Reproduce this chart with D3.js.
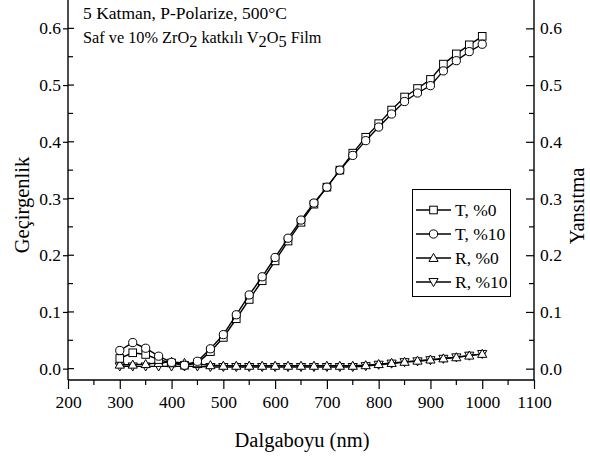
<!DOCTYPE html>
<html>
<head>
<meta charset="utf-8">
<script src="https://cdn.jsdelivr.net/npm/d3@7"></script>
<style>
  html, body { margin: 0; padding: 0; background: #fff; }
  svg { display: block; }
  svg text { font-family: "Liberation Serif", "Times New Roman", serif !important; fill: #000; }
</style>
</head>
<body>
<svg id="chart" width="590" height="456"></svg>
<script>
// Wavelength grid (nm)
const wavelengths = [300, 325, 350, 375, 400, 425, 450, 475, 500, 525, 550, 575, 600, 625, 650,
  675, 700, 725, 750, 775, 800, 825, 850, 875, 900, 925, 950, 975, 1000];

// Transmittance, undoped film
const tPure = [0.018, 0.028, 0.025, 0.016, 0.010, 0.006, 0.010, 0.030, 0.055, 0.088, 0.122, 0.155,
  0.190, 0.225, 0.258, 0.290, 0.320, 0.350, 0.380, 0.408, 0.432, 0.456, 0.479, 0.494, 0.510,
  0.537, 0.555, 0.571, 0.586];
// Transmittance, 10% ZrO2 doped film
const tDoped = [0.032, 0.046, 0.036, 0.022, 0.011, 0.006, 0.013, 0.035, 0.060, 0.095, 0.130, 0.162,
  0.196, 0.230, 0.262, 0.292, 0.320, 0.350, 0.376, 0.402, 0.426, 0.449, 0.471, 0.486, 0.499,
  0.525, 0.543, 0.559, 0.572];
// Reflectance, undoped film
const rPure = [0.007, 0.007, 0.008, 0.010, 0.012, 0.010, 0.008, 0.006, 0.005, 0.005, 0.005, 0.005,
  0.005, 0.005, 0.005, 0.005, 0.005, 0.005, 0.005, 0.006, 0.008, 0.010, 0.012, 0.014, 0.016,
  0.018, 0.020, 0.023, 0.026];
// Reflectance, 10% ZrO2 doped film
const rDoped = [0.004, 0.004, 0.004, 0.004, 0.004, 0.004, 0.004, 0.003, 0.003, 0.003, 0.003, 0.003,
  0.003, 0.003, 0.003, 0.003, 0.003, 0.003, 0.003, 0.0045, 0.007, 0.009, 0.0115, 0.013, 0.015,
  0.0175, 0.020, 0.023, 0.026];

const xTicks = [200, 300, 400, 500, 600, 700, 800, 900, 1000, 1100];
const yTicks = [0.0, 0.1, 0.2, 0.3, 0.4, 0.5, 0.6];

const seriesNames = ["T, %0", "T, %10", "R, %0", "R, %10"];
const seriesValues = [tPure, tDoped, rPure, rDoped];
const seriesSymbols = ["square", "circle", "up", "down"];

const svg = d3.select("#chart");
const plotLeft = 68, plotRight = 534, plotTop = 0, plotBottom = 380;

const x = d3.scaleLinear().domain([200, 1100]).range([plotLeft, plotRight]);
const y = d3.scaleLinear().domain([-0.02, 0.65]).range([plotBottom, plotTop]);

const black = "#000";
const axisFont = 17.5;

// plot frame
svg.append("line").attr("x1", plotLeft).attr("x2", plotRight).attr("y1", plotBottom).attr("y2", plotBottom)
  .attr("stroke", black).attr("stroke-width", 1.4);
svg.append("line").attr("x1", plotLeft).attr("x2", plotLeft).attr("y1", plotTop).attr("y2", plotBottom)
  .attr("stroke", black).attr("stroke-width", 1.4);
svg.append("line").attr("x1", plotRight).attr("x2", plotRight).attr("y1", plotTop).attr("y2", plotBottom)
  .attr("stroke", black).attr("stroke-width", 1.4);

// bottom axis: outward ticks
const xAxis = d3.axisBottom(x).tickValues(xTicks).tickFormat(d3.format("d"))
  .tickSizeInner(9).tickSizeOuter(0).tickPadding(7);
const gx = svg.append("g").attr("transform", `translate(0,${plotBottom})`).call(xAxis);
gx.select(".domain").remove();
gx.selectAll("line").attr("stroke", black).attr("stroke-width", 1.2);
gx.selectAll("text").attr("font-size", axisFont);
const xMinor = d3.range(250, 1100, 100);
svg.append("g").selectAll("line").data(xMinor).join("line")
  .attr("x1", d => x(d)).attr("x2", d => x(d)).attr("y1", plotBottom).attr("y2", plotBottom + 5)
  .attr("stroke", black).attr("stroke-width", 1.2);

// left axis
const yAxisL = d3.axisLeft(y).tickValues(yTicks).tickFormat(d3.format(".1f"))
  .tickSizeInner(5).tickSizeOuter(0).tickPadding(2);
const gyl = svg.append("g").attr("transform", `translate(${plotLeft},0)`).call(yAxisL);
gyl.select(".domain").remove();
gyl.selectAll("line").attr("stroke", black).attr("stroke-width", 1.2);
gyl.selectAll("text").attr("font-size", axisFont);

// right axis: inward ticks
const yAxisR = d3.axisRight(y).tickValues(yTicks).tickFormat(d3.format(".1f"))
  .tickSizeInner(-8).tickSizeOuter(0).tickPadding(6);
const gyr = svg.append("g").attr("transform", `translate(${plotRight},0)`).call(yAxisR);
gyr.select(".domain").remove();
gyr.selectAll("line").attr("stroke", black).attr("stroke-width", 1.2);
gyr.selectAll("text").attr("font-size", axisFont);

const yMinor = d3.range(0.05, 0.65, 0.1);
svg.append("g").selectAll("line").data(yMinor).join("line")
  .attr("x1", plotLeft).attr("x2", plotLeft + 5).attr("y1", d => y(d)).attr("y2", d => y(d))
  .attr("stroke", black).attr("stroke-width", 1.2);
svg.append("g").selectAll("line").data(yMinor).join("line")
  .attr("x1", plotRight - 5).attr("x2", plotRight).attr("y1", d => y(d)).attr("y2", d => y(d))
  .attr("stroke", black).attr("stroke-width", 1.2);
svg.append("g").selectAll("line").data(yTicks).join("line")
  .attr("x1", plotLeft).attr("x2", plotLeft + 6).attr("y1", d => y(d)).attr("y2", d => y(d))
  .attr("stroke", black).attr("stroke-width", 1.2);

// axis titles
svg.append("text").attr("x", 302).attr("y", 447)
  .attr("text-anchor", "middle").attr("font-size", 20.5).text("Dalgaboyu (nm)");
svg.append("text").attr("transform", "translate(29,205) rotate(-90)")
  .attr("text-anchor", "middle").attr("font-size", 20.5).text("Geçirgenlik");
svg.append("text").attr("transform", "translate(584,206) rotate(-90)")
  .attr("text-anchor", "middle").attr("font-size", 20.5).text("Yansıtma");

// header text
svg.append("text").attr("x", 83).attr("y", 19).attr("font-size", 17.5)
  .text("5 Katman, P-Polarize, 500°C");
const sub = svg.append("text").attr("x", 83).attr("y", 43).attr("font-size", 16.3);
sub.append("tspan").text("Saf ve 10% ZrO");
sub.append("tspan").attr("dy", 4).text("2");
sub.append("tspan").attr("dy", -4).text(" katkılı V");
sub.append("tspan").attr("dy", 4).text("2");
sub.append("tspan").attr("dy", -4).text("O");
sub.append("tspan").attr("dy", 4).text("5");
sub.append("tspan").attr("dy", -4).text(" Film");

// marker drawing
function drawMarker(g, kind, cx, cy) {
  const s = 3.8;
  if (kind === "square") {
    g.append("rect").attr("x", cx - s).attr("y", cy - s).attr("width", 2 * s).attr("height", 2 * s)
      .attr("fill", "#fff").attr("stroke", black).attr("stroke-width", 1);
  } else if (kind === "circle") {
    g.append("circle").attr("cx", cx).attr("cy", cy).attr("r", 4.1)
      .attr("fill", "#fff").attr("stroke", black).attr("stroke-width", 1);
  } else if (kind === "up") {
    const h = 4.6;
    g.append("path").attr("d", `M${cx},${cy - h}L${cx + h},${cy + h * 0.75}L${cx - h},${cy + h * 0.75}Z`)
      .attr("fill", "#fff").attr("stroke", black).attr("stroke-width", 1);
  } else {
    const h = 4.6;
    g.append("path").attr("d", `M${cx},${cy + h}L${cx + h},${cy - h * 0.75}L${cx - h},${cy - h * 0.75}Z`)
      .attr("fill", "#fff").attr("stroke", black).attr("stroke-width", 1);
  }
}

const line = d3.line().x(d => x(d[0])).y(d => y(d[1]));
const plot = svg.append("g");
// reflectance first, transmittance on top
[3, 2, 0, 1].forEach(i => {
  const pts = wavelengths.map((w, j) => [w, seriesValues[i][j]]);
  plot.append("path").datum(pts).attr("d", line).attr("fill", "none")
    .attr("stroke", black).attr("stroke-width", 1.4);
  const mg = plot.append("g");
  pts.forEach(p => drawMarker(mg, seriesSymbols[i], x(p[0]), y(p[1])));
});

// legend
const lg = svg.append("g");
lg.append("rect").attr("x", 412.5).attr("y", 189.5).attr("width", 98).attr("height", 107)
  .attr("fill", "#fff").attr("stroke", black).attr("stroke-width", 1);
seriesNames.forEach((name, i) => {
  const ly = 210 + i * 24;
  lg.append("line").attr("x1", 416).attr("x2", 451).attr("y1", ly).attr("y2", ly)
    .attr("stroke", black).attr("stroke-width", 1.4);
  drawMarker(lg, seriesSymbols[i], 433.5, ly);
  lg.append("text").attr("x", 455).attr("y", ly + 6).attr("font-size", 17.5).text(name);
});
</script>
</body>
</html>
